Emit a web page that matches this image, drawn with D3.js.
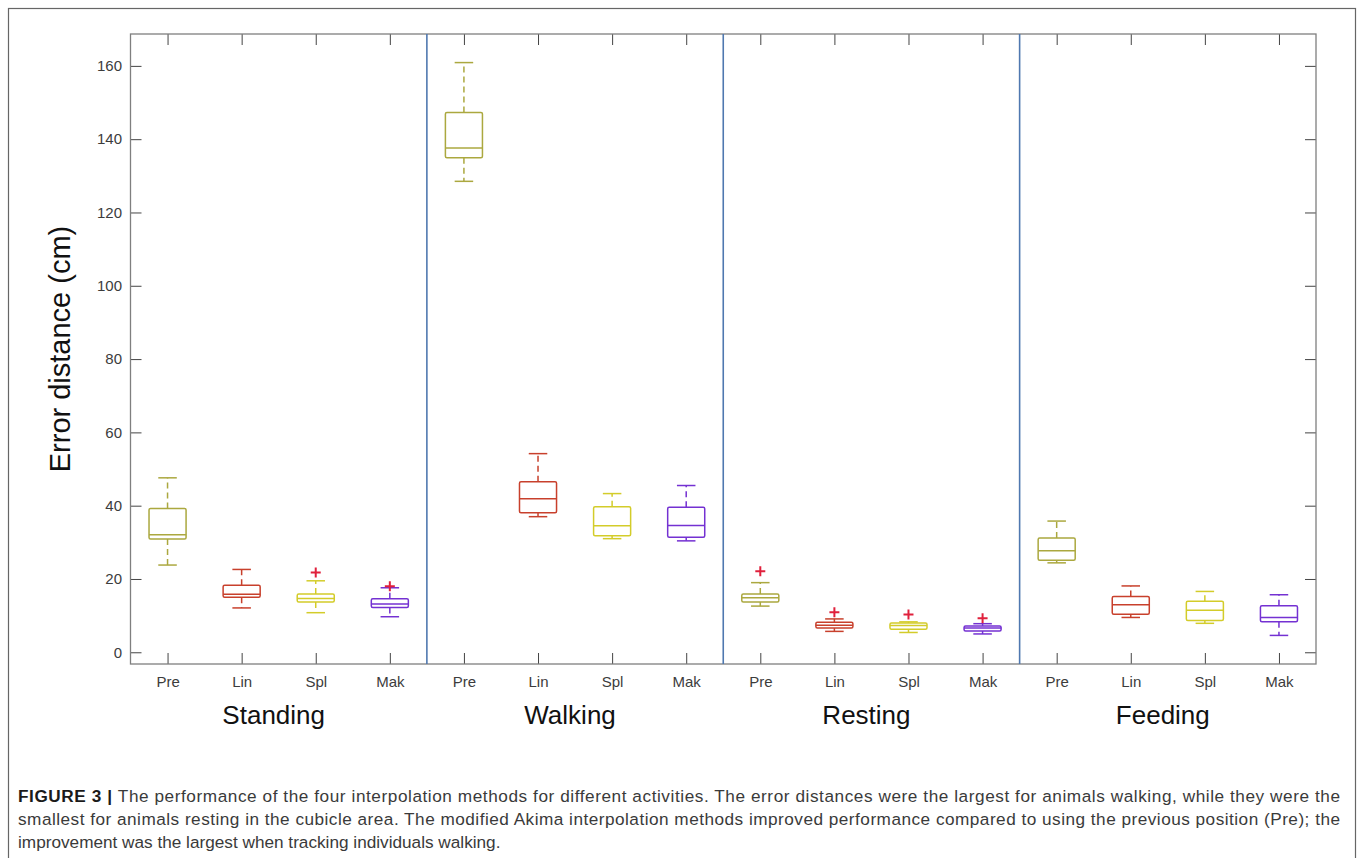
<!DOCTYPE html>
<html>
<head>
<meta charset="utf-8">
<script src="https://cdn.jsdelivr.net/npm/d3@7"></script>
<style>
  html, body { margin: 0; padding: 0; background: #fff; }
  svg { display: block; font-family: "Liberation Sans", Arial, Helvetica, sans-serif; }
</style>
</head>
<body>
<svg id="chart" width="1358" height="858"></svg>
<script>
// Activity groups and the four position-estimation methods per group
const activities = ["Standing", "Walking", "Resting", "Feeding"];
const methods = ["Pre", "Lin", "Spl", "Mak"];

// Box statistics (cm), one entry per box, ordered activity by activity
const lowerWhisker = [23.8, 12.1, 10.8, 9.7, 128.5, 37.0, 31.0, 30.4, 12.6, 5.7, 5.4, 5.0, 24.4, 9.5, 7.9, 4.6];
const quartile1    = [30.9, 15.0, 13.7, 12.2, 134.9, 38.1, 31.8, 31.4, 13.7, 6.6, 6.3, 5.8, 25.1, 10.4, 8.7, 8.3];
const medians      = [32.1, 15.8, 14.7, 13.2, 137.6, 41.9, 34.5, 34.6, 14.9, 7.4, 7.3, 6.6, 27.7, 13.0, 11.5, 9.5];
const quartile3    = [39.2, 18.3, 15.9, 14.6, 147.3, 46.5, 39.7, 39.6, 15.9, 8.2, 8.0, 7.2, 31.2, 15.2, 13.9, 12.7];
const upperWhisker = [47.6, 22.6, 19.5, 17.6, 160.9, 54.2, 43.3, 45.5, 19.0, 9.1, 8.3, 7.8, 35.8, 18.1, 16.6, 15.7];
const outliers     = [[], [], [21.8], [18.0], [], [], [], [], [22.1], [10.9], [10.3], [9.3], [], [], [], []];

const yTicks = [0, 20, 40, 60, 80, 100, 120, 140, 160];
const yLabel = "Error distance (cm)";

const captionLines = [
  { bold: "FIGURE 3 | ", text: "The performance of the four interpolation methods for different activities. The error distances were the largest for animals walking, while they were the", justify: true },
  { bold: "", text: "smallest for animals resting in the cubicle area. The modified Akima interpolation methods improved performance compared to using the previous position (Pre); the", justify: true },
  { bold: "", text: "improvement was the largest when tracking individuals walking.", justify: false }
];

// Colours per method
const methodColor = { Pre: "#aba83f", Lin: "#c8402c", Spl: "#d3cc2a", Mak: "#7431d2" };

const svg = d3.select("#chart");

// Plot area
const plot = { left: 130.5, right: 1316, top: 34, bottom: 664 };

const boxes = [];
activities.forEach((a, gi) => methods.forEach((m, mi) => {
  const i = gi * methods.length + mi;
  boxes.push({
    activity: a, method: m, pos: i + 1,
    lo: lowerWhisker[i], q1: quartile1[i], med: medians[i], q3: quartile3[i], hi: upperWhisker[i],
    out: outliers[i]
  });
}));

const x = d3.scaleLinear().domain([0.5, boxes.length + 0.5]).range([plot.left, plot.right]);
const y = d3.scaleLinear().domain([-3.2, 168.7]).range([plot.bottom, plot.top]);

// Outer figure frame
svg.append("rect")
  .attr("x", 8.5).attr("y", 8.5).attr("width", 1347).attr("height", 870)
  .attr("fill", "none").attr("stroke", "#666").attr("stroke-width", 1.2);

const axisColor = "#7f7f7f";
const tickLen = 11;

// Left axis with labels, ticks pointing inward
const yAxis = d3.axisLeft(y).tickValues(yTicks).tickSizeInner(-tickLen).tickSizeOuter(0).tickPadding(8.5);
const gy = svg.append("g").attr("transform", `translate(${plot.left},0)`).call(yAxis);
gy.select(".domain").remove();
gy.selectAll("line").attr("stroke", "#444").attr("stroke-width", 1);
gy.selectAll("text").attr("fill", "#3c3c3c").style("font-size", "15px");

// Right axis ticks (no labels)
const gyR = svg.append("g").attr("transform", `translate(${plot.right},0)`)
  .call(d3.axisRight(y).tickValues(yTicks).tickSizeInner(-tickLen).tickSizeOuter(0).tickFormat(""));
gyR.select(".domain").remove();
gyR.selectAll("line").attr("stroke", "#444").attr("stroke-width", 1);

// Bottom axis with method labels, ticks pointing inward
const positions = boxes.map(b => b.pos);
const xAxis = d3.axisBottom(x).tickValues(positions)
  .tickFormat(p => boxes[p - 1].method).tickSizeInner(-tickLen).tickSizeOuter(0).tickPadding(12);
const gx = svg.append("g").attr("transform", `translate(0,${plot.bottom})`).call(xAxis);
gx.select(".domain").remove();
gx.selectAll("line").attr("stroke", "#444").attr("stroke-width", 1);
gx.selectAll("text").attr("fill", "#3c3c3c").style("font-size", "15px");

// Top axis ticks
const gxT = svg.append("g").attr("transform", `translate(0,${plot.top})`)
  .call(d3.axisTop(x).tickValues(positions).tickSizeInner(-tickLen).tickSizeOuter(0).tickFormat(""));
gxT.select(".domain").remove();
gxT.selectAll("line").attr("stroke", "#444").attr("stroke-width", 1);

// Axes box
svg.append("rect")
  .attr("x", plot.left).attr("y", plot.top)
  .attr("width", plot.right - plot.left).attr("height", plot.bottom - plot.top)
  .attr("fill", "none").attr("stroke", axisColor).attr("stroke-width", 1.3);

// Vertical separators between activity groups
const separators = d3.range(1, activities.length).map(k => k * methods.length + 0.5);
svg.append("g").selectAll("line").data(separators).join("line")
  .attr("x1", d => x(d)).attr("x2", d => x(d))
  .attr("y1", plot.top).attr("y2", plot.bottom)
  .attr("stroke", "#4f78b0").attr("stroke-width", 1.6);

// Boxplots
const boxW = x(1.25) - x(1);   // half box width
const capW = boxW / 2;
const gBoxes = svg.append("g").selectAll("g").data(boxes).join("g")
  .attr("stroke", d => methodColor[d.method]).attr("fill", "none").attr("stroke-width", 1.5);

// Whiskers (dashed)
gBoxes.append("line")
  .attr("x1", d => x(d.pos)).attr("x2", d => x(d.pos))
  .attr("y1", d => y(d.q3)).attr("y2", d => y(d.hi))
  .attr("stroke-dasharray", "6,4");
gBoxes.append("line")
  .attr("x1", d => x(d.pos)).attr("x2", d => x(d.pos))
  .attr("y1", d => y(d.q1)).attr("y2", d => y(d.lo))
  .attr("stroke-dasharray", "6,4");
// Whisker caps
gBoxes.append("line")
  .attr("x1", d => x(d.pos) - capW).attr("x2", d => x(d.pos) + capW)
  .attr("y1", d => y(d.hi)).attr("y2", d => y(d.hi));
gBoxes.append("line")
  .attr("x1", d => x(d.pos) - capW).attr("x2", d => x(d.pos) + capW)
  .attr("y1", d => y(d.lo)).attr("y2", d => y(d.lo));
// Box
gBoxes.append("rect")
  .attr("x", d => x(d.pos) - boxW).attr("width", 2 * boxW)
  .attr("y", d => y(d.q3)).attr("height", d => y(d.q1) - y(d.q3))
  .attr("fill", "#fff").attr("rx", 1.5);
// Median
gBoxes.append("line")
  .attr("x1", d => x(d.pos) - boxW).attr("x2", d => x(d.pos) + boxW)
  .attr("y1", d => y(d.med)).attr("y2", d => y(d.med));
// Outliers as red plus markers
gBoxes.selectAll("path.out").data(d => d.out.map(v => ({ v, pos: d.pos }))).join("path")
  .attr("class", "out")
  .attr("d", d => `M${x(d.pos) - 5},${y(d.v)}h10M${x(d.pos)},${y(d.v) - 5}v10`)
  .attr("stroke", "#e0203c").attr("stroke-width", 2);

// Activity group labels
svg.append("g").selectAll("text").data(activities).join("text")
  .attr("x", (d, i) => x(i * methods.length + (methods.length + 1) / 2) - 5)
  .attr("y", 724)
  .attr("text-anchor", "middle")
  .attr("fill", "#111")
  .style("font-size", "26px")
  .text(d => d);

// Y-axis title
svg.append("text")
  .attr("transform", `translate(70,${(plot.top + plot.bottom) / 2}) rotate(-90)`)
  .attr("text-anchor", "middle")
  .attr("fill", "#111")
  .style("font-size", "29px")
  .text(yLabel);

// Caption
const capX = 18, capRight = 1340, capY0 = 802, capStep = 23;
captionLines.forEach((ln, i) => {
  const t = svg.append("text")
    .attr("x", capX).attr("y", capY0 + i * capStep)
    .attr("fill", "#3a3a3a")
    .style("font-size", "17.2px");
  if (ln.justify) t.attr("textLength", capRight - capX).attr("lengthAdjust", "spacing");
  if (ln.bold) t.append("tspan").attr("font-weight", "bold").attr("fill", "#1a1a1a").text(ln.bold);
  t.append("tspan").text(ln.text);
});
</script>
</body>
</html>
